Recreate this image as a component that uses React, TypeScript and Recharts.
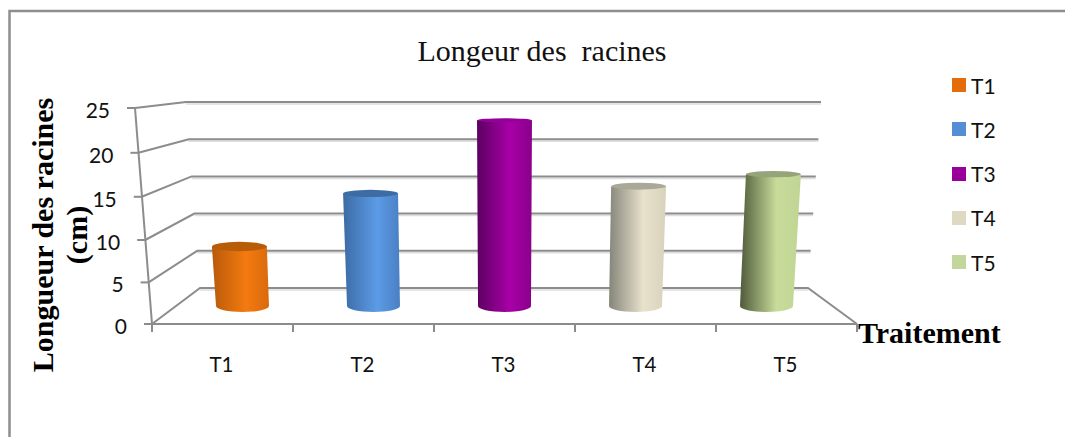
import React from 'react';
import { Bar, ComposedChart, Legend, ReferenceLine, XAxis, YAxis } from 'recharts';

const categories = ['T1', 'T2', 'T3', 'T4', 'T5'];
const longueurs = [7.4, 14, 23.1, 14.9, 16.4];
const yTicks = [0, 5, 10, 15, 20, 25];

const legendColors = ['#e46c0a', '#558ed5', '#990099', '#ddd9c3', '#c3d69b'];
const topColors = ['#b85c08', '#3d6ba3', '#96009a', '#aaa896', '#96a47a'];
// left edge, highlight, right edge of each cylinder wall
const wallColors = [
  ['#b85a0a', '#f47a10', '#d96a0c'],
  ['#3c6ba5', '#5c9be6', '#4a80c4'],
  ['#5c0060', '#a800a8', '#8a008a'],
  ['#85857a', '#e8e2cc', '#d8d2bc'],
  ['#4f5a3a', '#c8dc9a', '#c0d494'],
];

const rows = categories.map((categorie, i) => ({ categorie, longueur: longueurs[i] }));

const WIDTH = 1065;
const HEIGHT = 437;
const LEFT = 152;
const RIGHT = 857;
const TOP = 108;
const BOTTOM = 324;
const BAND = (RIGHT - LEFT) / categories.length;
const CENTER = (LEFT + RIGHT) / 2;

// fake 3D box: the front plane is the plot area, the back wall sits smaller and higher
const FLOOR_DEPTH = 36;
const BACK_SCALE = 186 / 216;
const MID_SCALE = 201 / 216;
const SIDE_SCALE = 131 / 141;
const GREY = '#8c8c8c';
const SHADOW = '#dedede';

const frontLeftX = (y: number) => LEFT - (BOTTOM - y) * (17 / 216);
const backLeftX = (y: number) => LEFT + 48 - (BOTTOM - y) * (14 / 216);
const backRightX = (y: number) => RIGHT - 49 + (BOTTOM - y) * (13 / 216);
const backY = (y: number) => BOTTOM - FLOOR_DEPTH - (BOTTOM - y) * BACK_SCALE;
// the tilted front edge compresses towards the top, which pushes its mid ticks down a little
const frontY = (y: number) => {
  const t = (BOTTOM - y) / (BOTTOM - TOP);
  return y + t * (1 - t) * 10;
};

const WallLine = (props: any) => {
  const y = props.y1;
  const yb = backY(y);
  const isFloor = y >= BOTTOM - 0.5;
  const pts = [
    [frontLeftX(y), frontY(y)],
    [backLeftX(y), yb],
    [backRightX(y), yb],
  ];
  if (isFloor) pts.push([RIGHT, BOTTOM]);
  const d = pts.map((p) => p.join(',')).join(' ');
  return (
    <g>
      <line x1={backLeftX(y)} y1={yb + 2} x2={backRightX(y)} y2={yb + 2} stroke={SHADOW} strokeWidth={1.5} />
      <polyline points={d} fill="none" stroke={GREY} strokeWidth={2} />
    </g>
  );
};

const AxisSlant = (props: any) => (
  <line x1={frontLeftX(props.y1)} y1={props.y1} x2={LEFT} y2={BOTTOM} stroke={GREY} strokeWidth={2} />
);

const Cylinder = (props: any) => {
  const { x, width, height, index } = props;
  const rise = height;
  const xFront = x + width / 2;
  const baseX = CENTER + (xFront - CENTER) * SIDE_SCALE;
  const baseY = BOTTOM - FLOOR_DEPTH / 2;
  const topY = baseY - rise * MID_SCALE;
  // the walls lean away from the middle as they rise
  const topX = baseX + (baseX - CENTER) * rise * MID_SCALE * 0.0002;
  const baseR = (width * SIDE_SCALE) / 2;
  const topR = baseR + 1;
  const baseRy = 6;
  const topRy = 2 + (topY - 120) * 0.0215;
  const body = [
    `M${topX - topR},${topY}`,
    `L${baseX - baseR},${baseY}`,
    `A${baseR},${baseRy} 0 0 0 ${baseX + baseR},${baseY}`,
    `L${topX + topR},${topY}`,
    'Z',
  ].join(' ');
  return (
    <g>
      <path d={body} fill={`url(#wall-${index})`} />
      <ellipse cx={topX} cy={topY} rx={topR} ry={topRy} fill={topColors[index]} />
    </g>
  );
};

const YTick = (props: any) => {
  const { y, payload } = props;
  const x = frontLeftX(y);
  const yf = frontY(y);
  return (
    <g>
      <line x1={x - 8} y1={yf} x2={x} y2={yf} stroke={GREY} strokeWidth={2} />
      <text x={x - 25} y={yf + 10} textAnchor="end" fontFamily="Lato" fontSize={21} fill="#111">
        {payload.value}
      </text>
    </g>
  );
};

const XTick = (props: any) => {
  const { x, payload, index } = props;
  const left = x - BAND / 2;
  return (
    <g>
      <line x1={left} y1={BOTTOM} x2={left} y2={BOTTOM + 8} stroke={GREY} strokeWidth={2} />
      {index === categories.length - 1 && (
        <line x1={left + BAND} y1={BOTTOM} x2={left + BAND} y2={BOTTOM + 8} stroke={GREY} strokeWidth={2} />
      )}
      <text x={x - 1} y={372} textAnchor="middle" fontFamily="Lato" fontSize={20.5} fill="#111">
        {payload.value}
      </text>
    </g>
  );
};

const LegendList = () => (
  <div style={{ fontFamily: 'Lato', fontSize: 21, color: '#111' }}>
    {categories.map((c, i) => (
      <div key={c} style={{ display: 'flex', alignItems: 'center', height: 44.25 }}>
        <span style={{ width: 14, height: 14, background: legendColors[i], marginRight: 5 }} />
        {c}
      </div>
    ))}
  </div>
);

export default function App() {
  return (
    <div style={{ position: 'absolute', left: 0, top: 0, width: WIDTH, height: HEIGHT, background: '#fff', overflow: 'hidden' }}>
      <ComposedChart
        width={WIDTH}
        height={HEIGHT}
        data={rows}
        margin={{ top: TOP, left: LEFT - 60, right: WIDTH - RIGHT, bottom: HEIGHT - BOTTOM - 50 }}
        barCategoryGap={0}
      >
        <defs>
          {wallColors.map((c, i) => (
            <linearGradient key={i} id={`wall-${i}`} x1="0" y1="0" x2="1" y2="0">
              <stop offset="0" stopColor={c[0]} />
              <stop offset="0.6" stopColor={c[1]} />
              <stop offset="1" stopColor={c[2]} />
            </linearGradient>
          ))}
        </defs>

        {/* chart frame: only the top and left edges are drawn */}
        <polyline points={`9.5,${HEIGHT} 9.5,11 ${WIDTH},11`} fill="none" stroke="#8e8e8e" strokeWidth={2.5} />

        <text x={542} y={61} textAnchor="middle" fontFamily="Liberation Serif" fontSize={30} fill="#111" style={{ whiteSpace: 'pre' }}>
          Longeur des  racines
        </text>

        <XAxis
          dataKey="categorie"
          height={50}
          axisLine={{ stroke: GREY, strokeWidth: 2 }}
          tickLine={false}
          tick={XTick}
          interval={0}
        />
        <YAxis width={60} domain={[0, 25]} ticks={yTicks} axisLine={false} tickLine={false} tick={YTick} interval={0} />

        {yTicks.map((v) => (
          <ReferenceLine key={v} y={v} ifOverflow="visible" stroke={GREY} shape={WallLine} zIndex={-100} />
        ))}
        <ReferenceLine y={25} ifOverflow="visible" stroke={GREY} shape={AxisSlant} zIndex={-100} />

        <Bar dataKey="longueur" barSize={57} isAnimationActive={false} shape={Cylinder} />

        <Legend
          layout="vertical"
          align="center"
          verticalAlign="middle"
          content={LegendList}
          wrapperStyle={{ left: 952, top: 63, width: 60, height: 222 }}
        />

        <text transform="translate(53,235) rotate(-90)" textAnchor="middle" fontFamily="Liberation Serif" fontWeight="bold" fontSize={30} fill="#000">
          Longueur des racines
        </text>
        <text transform="translate(87,235) rotate(-90)" textAnchor="middle" fontFamily="Liberation Serif" fontWeight="bold" fontSize={30} fill="#000">
          (cm)
        </text>
        <text x={858} y={343} fontFamily="Liberation Serif" fontWeight="bold" fontSize={30} fill="#000">
          Traitement
        </text>
      </ComposedChart>
    </div>
  );
}
